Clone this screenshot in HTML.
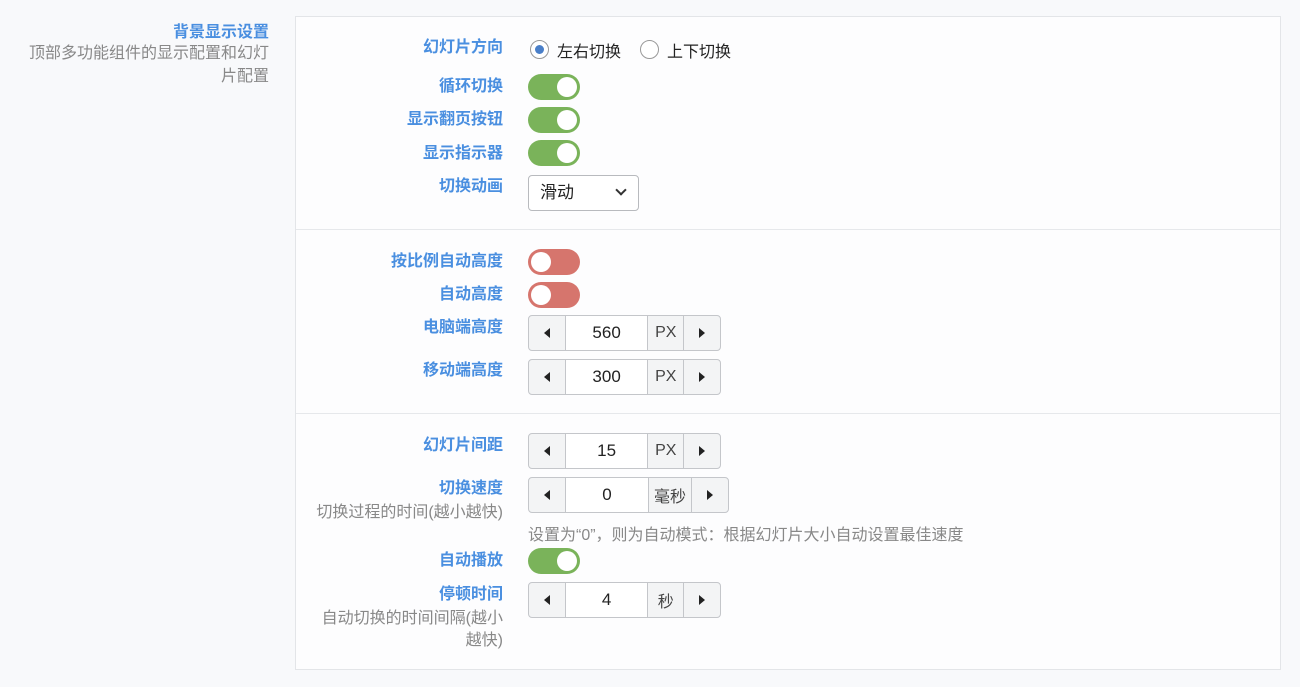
<!DOCTYPE html>
<html><head><meta charset="utf-8"><style>
*{box-sizing:border-box;margin:0;padding:0}
body{width:1300px;height:687px;background:#f8f9fb;font-family:"Liberation Sans","Noto Sans CJK SC",sans-serif;position:relative;overflow:hidden}
.a{position:absolute}
.lb{position:absolute;right:797px;color:#4a8fe0;font-size:16px;font-weight:bold;text-align:right;white-space:nowrap;line-height:20px}
.sub{position:absolute;right:797px;color:#888;font-size:16px;text-align:right;line-height:22px}
.tg{position:absolute;left:528px;width:52px;height:26px;border-radius:13px;background:#7ab35a}
.tg::after{content:"";position:absolute;top:3px;right:3px;width:20px;height:20px;border-radius:50%;background:#fff}
.tg.off{background:#d6756d}
.tg.off::after{right:auto;left:3px}
.sp{position:absolute;left:528px;height:36px;border:1px solid #c4c6ca;border-radius:4px;display:flex;background:#f3f4f5;font-size:17px;color:#222}
.sp div{display:flex;align-items:center;justify-content:center;height:100%}
.sp .ar{width:36px}
.sp .l::before{content:"";border-top:5px solid transparent;border-bottom:5px solid transparent;border-right:6px solid #222}
.sp .r::before{content:"";border-top:5px solid transparent;border-bottom:5px solid transparent;border-left:6px solid #222}
.sp .in{width:84px;background:#fff;border-left:1px solid #c4c6ca;border-right:1px solid #c4c6ca}
.sp .u{border-right:1px solid #c4c6ca;font-size:16px;color:#444}
</style></head><body>
<div class="a" style="right:1031px;top:18px;color:#4a8fe0;font-size:16px;font-weight:bold">背景显示设置</div>
<div class="a" style="right:1031px;top:42px;color:#888;font-size:16px;text-align:right;line-height:23px;width:260px">顶部多功能组件的显示配置和幻灯<br>片配置</div>
<div class="a" style="left:295px;top:16px;width:986px;height:654px;border:1px solid #e3e5e8;background:#fdfdfe"></div>
<div class="a" style="left:296px;top:229px;width:984px;height:1px;background:#e6e8eb"></div>
<div class="a" style="left:296px;top:413px;width:984px;height:1px;background:#e6e8eb"></div>

<div class="lb" style="top:38px">幻灯片方向</div>
<div class="a" style="left:530px;top:40px;width:19px;height:19px;border:1px solid #999;border-radius:50%;background:#fff"><div class="a" style="left:4px;top:4px;width:9px;height:9px;border-radius:50%;background:#4a7fc8"></div></div>
<div class="a" style="left:557px;top:38px;font-size:16px;color:#222">左右切换</div>
<div class="a" style="left:640px;top:40px;width:19px;height:19px;border:1px solid #999;border-radius:50%;background:#fff"></div>
<div class="a" style="left:667px;top:38px;font-size:16px;color:#222">上下切换</div>

<div class="lb" style="top:77px">循环切换</div><div class="tg" style="top:74px"></div>
<div class="lb" style="top:110px">显示翻页按钮</div><div class="tg" style="top:107px"></div>
<div class="lb" style="top:144px">显示指示器</div><div class="tg" style="top:140px"></div>
<div class="lb" style="top:177px">切换动画</div>
<div class="a" style="left:528px;top:175px;width:111px;height:36px;border:1px solid #b8babe;border-radius:4px;background:#fff;font-size:17px;color:#222;padding:6px 0 0 11px;line-height:22px">滑动<span class="a" style="left:88px;top:10px;width:8px;height:8px;border-right:2px solid #333;border-bottom:2px solid #333;transform:rotate(45deg)"></span></div>

<div class="lb" style="top:252px">按比例自动高度</div><div class="tg off" style="top:249px"></div>
<div class="lb" style="top:285px">自动高度</div><div class="tg off" style="top:282px"></div>
<div class="lb" style="top:318px">电脑端高度</div>
<div class="sp" style="top:315px;width:193px"><div class="ar l"></div><div class="in">560</div><div class="u" style="width:36px">PX</div><div class="ar r"></div></div>
<div class="lb" style="top:361px">移动端高度</div>
<div class="sp" style="top:359px;width:193px"><div class="ar l"></div><div class="in">300</div><div class="u" style="width:36px">PX</div><div class="ar r"></div></div>

<div class="lb" style="top:436px">幻灯片间距</div>
<div class="sp" style="top:433px;width:193px"><div class="ar l"></div><div class="in">15</div><div class="u" style="width:36px">PX</div><div class="ar r"></div></div>
<div class="lb" style="top:479px">切换速度</div>
<div class="sub" style="top:502px">切换过程的时间(越小越快)</div>
<div class="sp" style="top:477px;width:201px"><div class="ar l"></div><div class="in">0</div><div class="u" style="width:43px">毫秒</div><div class="ar r"></div></div>
<div class="a" style="left:528px;top:521px;font-size:16px;color:#888">设置为“0”，则为自动模式：根据幻灯片大小自动设置最佳速度</div>
<div class="lb" style="top:551px">自动播放</div><div class="tg" style="top:548px"></div>
<div class="lb" style="top:585px">停顿时间</div>
<div class="sub" style="top:608px;width:200px">自动切换的时间间隔(越小<br>越快)</div>
<div class="sp" style="top:582px;width:193px"><div class="ar l"></div><div class="in">4</div><div class="u" style="width:36px">秒</div><div class="ar r"></div></div>
</body></html>
